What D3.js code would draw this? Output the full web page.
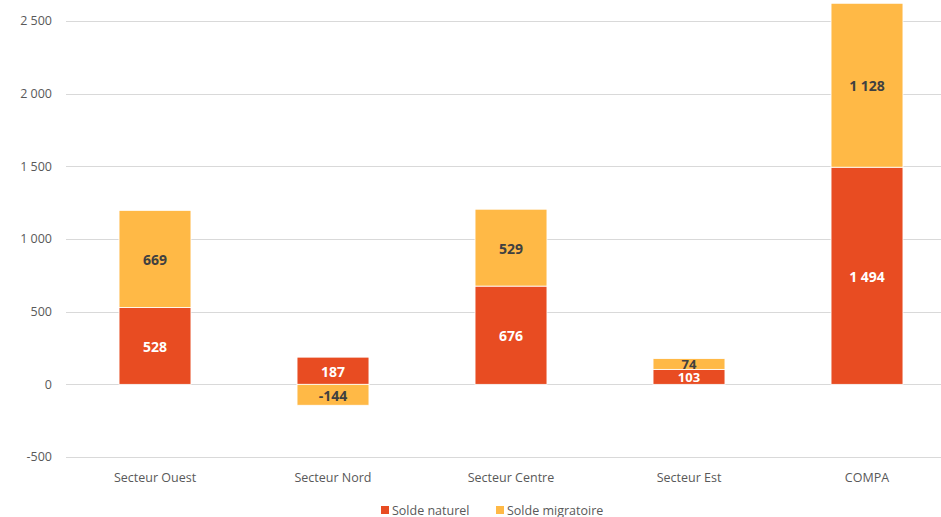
<!DOCTYPE html>
<html lang="fr">
<head>
    <meta charset="UTF-8">
    <title>Solde naturel et migratoire par secteur</title>
    <script src="https://d3js.org/d3.v7.min.js"></script>
    <style>
        body { margin: 0; background: #fff; }
        svg { display: block; font-family: "Open Sans", "Noto Sans", sans-serif; }
    </style>
</head>
<body>
<div id="chart"></div>

<script>
const categories = ["Secteur Ouest", "Secteur Nord", "Secteur Centre", "Secteur Est", "COMPA"];
const soldeNaturel = [528, 187, 676, 103, 1494];
const soldeMigratoire = [669, -144, 529, 74, 1128];
const seriesNames = ["Solde naturel", "Solde migratoire"];
const yTicks = [-500, 0, 500, 1000, 1500, 2000, 2500];

const width = 941, height = 517;
const colors = ["#e84c22", "#ffb946"];
const labelColors = ["#ffffff", "#404040"];

const rows = categories.map((c, i) => ({
    cat: c,
    "Solde naturel": soldeNaturel[i],
    "Solde migratoire": soldeMigratoire[i]
}));

const stacked = d3.stack()
    .keys(seriesNames)
    .offset(d3.stackOffsetDiverging)(rows);

const x = d3.scaleBand()
    .domain(categories)
    .range([66, 956])
    .paddingInner(0.596)
    .paddingOuter(0.298);

const y = d3.scaleLinear()
    .domain([-500, 2500])
    .range([457, 21]);

const svg = d3.select("#chart")
    .append("svg")
    .attr("width", width)
    .attr("height", height);

// grid lines
svg.append("g")
    .selectAll("line")
    .data(yTicks)
    .join("line")
    .attr("x1", 66)
    .attr("x2", width)
    .attr("y1", d => Math.round(y(d)) + 0.5)
    .attr("y2", d => Math.round(y(d)) + 0.5)
    .attr("stroke", "#d9d9d9")
    .attr("stroke-width", 1);

// y tick labels
const fmt = v => d3.format(",")(v).replace(/,/g, " ").replace("−", "-");
svg.append("g")
    .selectAll("text")
    .data(yTicks)
    .join("text")
    .attr("x", 52)
    .attr("y", d => y(d))
    .attr("dy", "0.35em")
    .attr("text-anchor", "end")
    .attr("fill", "#595959")
    .style("font-size", "12.5px")
    .text(d => fmt(d));

// bars
const layer = svg.append("g")
    .selectAll("g")
    .data(stacked)
    .join("g")
    .attr("fill", (d, i) => colors[i]);

layer.selectAll("rect")
    .data(d => d.map(p => ({ p, key: d.key })))
    .join("rect")
    .attr("x", d => x(d.p.data.cat))
    .attr("width", x.bandwidth())
    .attr("y", d => y(Math.max(d.p[0], d.p[1])))
    .attr("height", d => Math.abs(y(d.p[0]) - y(d.p[1])))
    .attr("stroke", "#ffffff")
    .attr("stroke-width", 0.8);

// data labels (small segments get a slightly smaller font so they fit)
stacked.forEach((s, si) => {
    svg.append("g")
        .selectAll("text")
        .data(s)
        .join("text")
        .attr("x", d => x(d.data.cat) + x.bandwidth() / 2)
        .attr("y", d => y((d[0] + d[1]) / 2))
        .attr("dy", "0.42em")
        .attr("text-anchor", "middle")
        .attr("fill", labelColors[si])
        .style("font-size", d => Math.abs(y(d[0]) - y(d[1])) < 16 ? "13px" : "14px")
        .style("font-weight", "bold")
        .text(d => fmt(d.data[s.key]));
});

// category labels
svg.append("g")
    .selectAll("text")
    .data(categories)
    .join("text")
    .attr("x", d => x(d) + x.bandwidth() / 2)
    .attr("y", 482)
    .attr("text-anchor", "middle")
    .attr("fill", "#595959")
    .style("font-size", "12.5px")
    .text(d => d);

// legend
const legendX = [381, 496];
const legend = svg.append("g")
    .selectAll("g")
    .data(seriesNames)
    .join("g")
    .attr("transform", (d, i) => `translate(${legendX[i]},506)`);

legend.append("rect")
    .attr("width", 8)
    .attr("height", 8)
    .attr("fill", (d, i) => colors[i]);

legend.append("text")
    .attr("x", 11)
    .attr("y", 4)
    .attr("dy", "0.36em")
    .attr("fill", "#595959")
    .style("font-size", "12.5px")
    .text(d => d);
</script>
</body>
</html>
